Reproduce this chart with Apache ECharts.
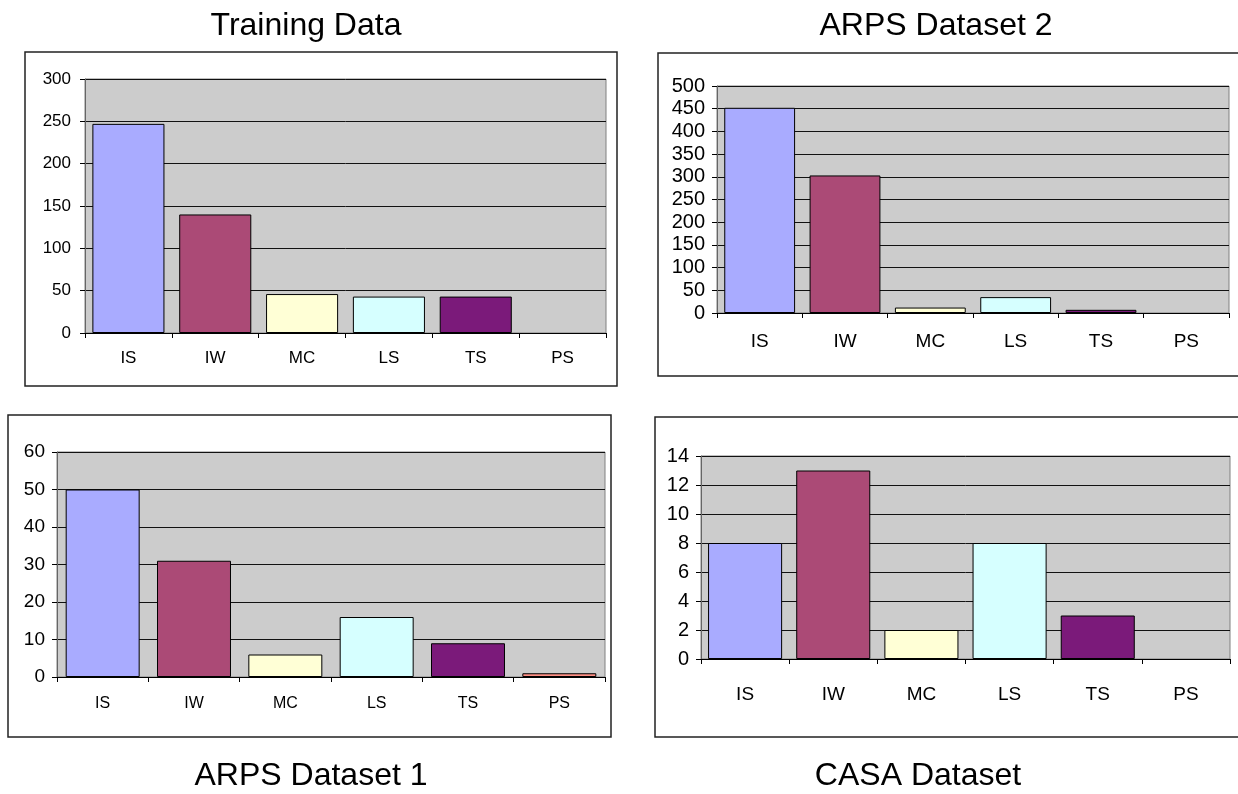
<!DOCTYPE html>
<html>
<head>
<meta charset="utf-8">
<script src="https://cdn.jsdelivr.net/npm/echarts@6/dist/echarts.min.js"></script>
<style>
html,body{margin:0;padding:0;background:#fff;}
#chart{width:1238px;height:794px;}
</style>
</head>
<body>
<div id="chart"></div>
<script>
// ---- data ----
const categories = ['IS', 'IW', 'MC', 'LS', 'TS', 'PS'];
const chartTitles = ['Training Data', 'ARPS Dataset 2', 'ARPS Dataset 1', 'CASA Dataset'];
const trainingValues = [247, 140, 46, 43, 43, 0];
const arps2Values = [452, 303, 12, 35, 7, 0];
const arps1Values = [50, 31, 6, 16, 9, 1];
const casaValues = [8, 13, 2, 8, 3, 0];
const trainingTicks = [0, 50, 100, 150, 200, 250, 300];
const arps2Ticks = [0, 50, 100, 150, 200, 250, 300, 350, 400, 450, 500];
const arps1Ticks = [0, 10, 20, 30, 40, 50, 60];
const casaTicks = [0, 2, 4, 6, 8, 10, 12, 14];

// ---- styles / layout ----
const barColors = ['#A9ABFF', '#AB4A76', '#FFFFD6', '#D6FFFF', '#7B1A7A', '#FF8F85'];
const REG = '"Liberation Sans", Arial, sans-serif';
const NARROW = '"Liberation Sans Narrow", "Liberation Sans", Arial, sans-serif';

const panels = [
  { values: trainingValues, ticks: trainingTicks, grid: {left: 85, top: 79, width: 521, height: 254},
    box: [25, 52, 592, 334], title: [301, 5], gap: '17%', font: REG, ySize: 17, xSize: 17, xMargin: 17, yMargin: 14 },
  { values: arps2Values, ticks: arps2Ticks, grid: {left: 717, top: 86, width: 512, height: 227},
    box: [658, 53, 590, 323], title: [931, 5], gap: '17%', font: NARROW, ySize: 20, xSize: 19, xMargin: 19, yMargin: 12 },
  { values: arps1Values, ticks: arps1Ticks, grid: {left: 57, top: 452, width: 548, height: 225},
    box: [8, 415, 603, 322], title: [306, 755], gap: '19%', font: NARROW, ySize: 19, xSize: 16, xMargin: 19, yMargin: 12 },
  { values: casaValues, ticks: casaTicks, grid: {left: 701, top: 456, width: 529, height: 203},
    box: [655, 417, 593, 320], title: [913, 755], gap: '16%', font: NARROW, ySize: 20, xSize: 19, xMargin: 26, yMargin: 12 }
];

const option = {
  backgroundColor: '#ffffff',
  animation: false,
  title: panels.map((p, i) => ({
    text: chartTitles[i],
    left: p.title[0], top: p.title[1], textAlign: 'center',
    textStyle: { fontFamily: REG, fontSize: 32, fontWeight: 'normal', color: '#000' }
  })),
  graphic: panels.map(p => ({
    type: 'rect', silent: true, z: -10,
    shape: { x: p.box[0], y: p.box[1], width: p.box[2], height: p.box[3] },
    style: { fill: '#fff', stroke: '#222', lineWidth: 1.5 }
  })),
  grid: panels.map(p => Object.assign({
    show: true, backgroundColor: '#CCCCCC', borderColor: '#808080', borderWidth: 1
  }, p.grid)),
  xAxis: panels.map((p, i) => ({
    type: 'category', gridIndex: i, data: categories, boundaryGap: true,
    axisLine: { show: true, lineStyle: { color: '#000', width: 1 } },
    axisTick: { show: true, alignWithLabel: false, length: 5, lineStyle: { color: '#000' } },
    axisLabel: { color: '#000', fontFamily: p.font, fontSize: p.xSize, margin: p.xMargin, interval: 0 },
    splitLine: { show: false }
  })),
  yAxis: panels.map((p, i) => ({
    type: 'value', gridIndex: i,
    min: p.ticks[0], max: p.ticks[p.ticks.length - 1], interval: p.ticks[1] - p.ticks[0],
    axisLine: { show: true, lineStyle: { color: '#666', width: 1 } },
    axisTick: { show: true, inside: false, length: 5, lineStyle: { color: '#000' } },
    axisLabel: { color: '#000', fontFamily: p.font, fontSize: p.ySize, margin: p.yMargin },
    splitLine: { show: true, lineStyle: { color: '#111', width: 1 } }
  })),
  series: panels.map((p, i) => ({
    type: 'bar', xAxisIndex: i, yAxisIndex: i,
    barCategoryGap: p.gap,
    data: p.values.map((v, k) => ({
      value: v,
      itemStyle: { color: barColors[k], borderColor: '#000', borderWidth: v === 0 ? 0 : 1 }
    }))
  }))
};

const chart = echarts.init(document.getElementById('chart'), null, { renderer: 'canvas' });
chart.setOption(option);
</script>
</body>
</html>
